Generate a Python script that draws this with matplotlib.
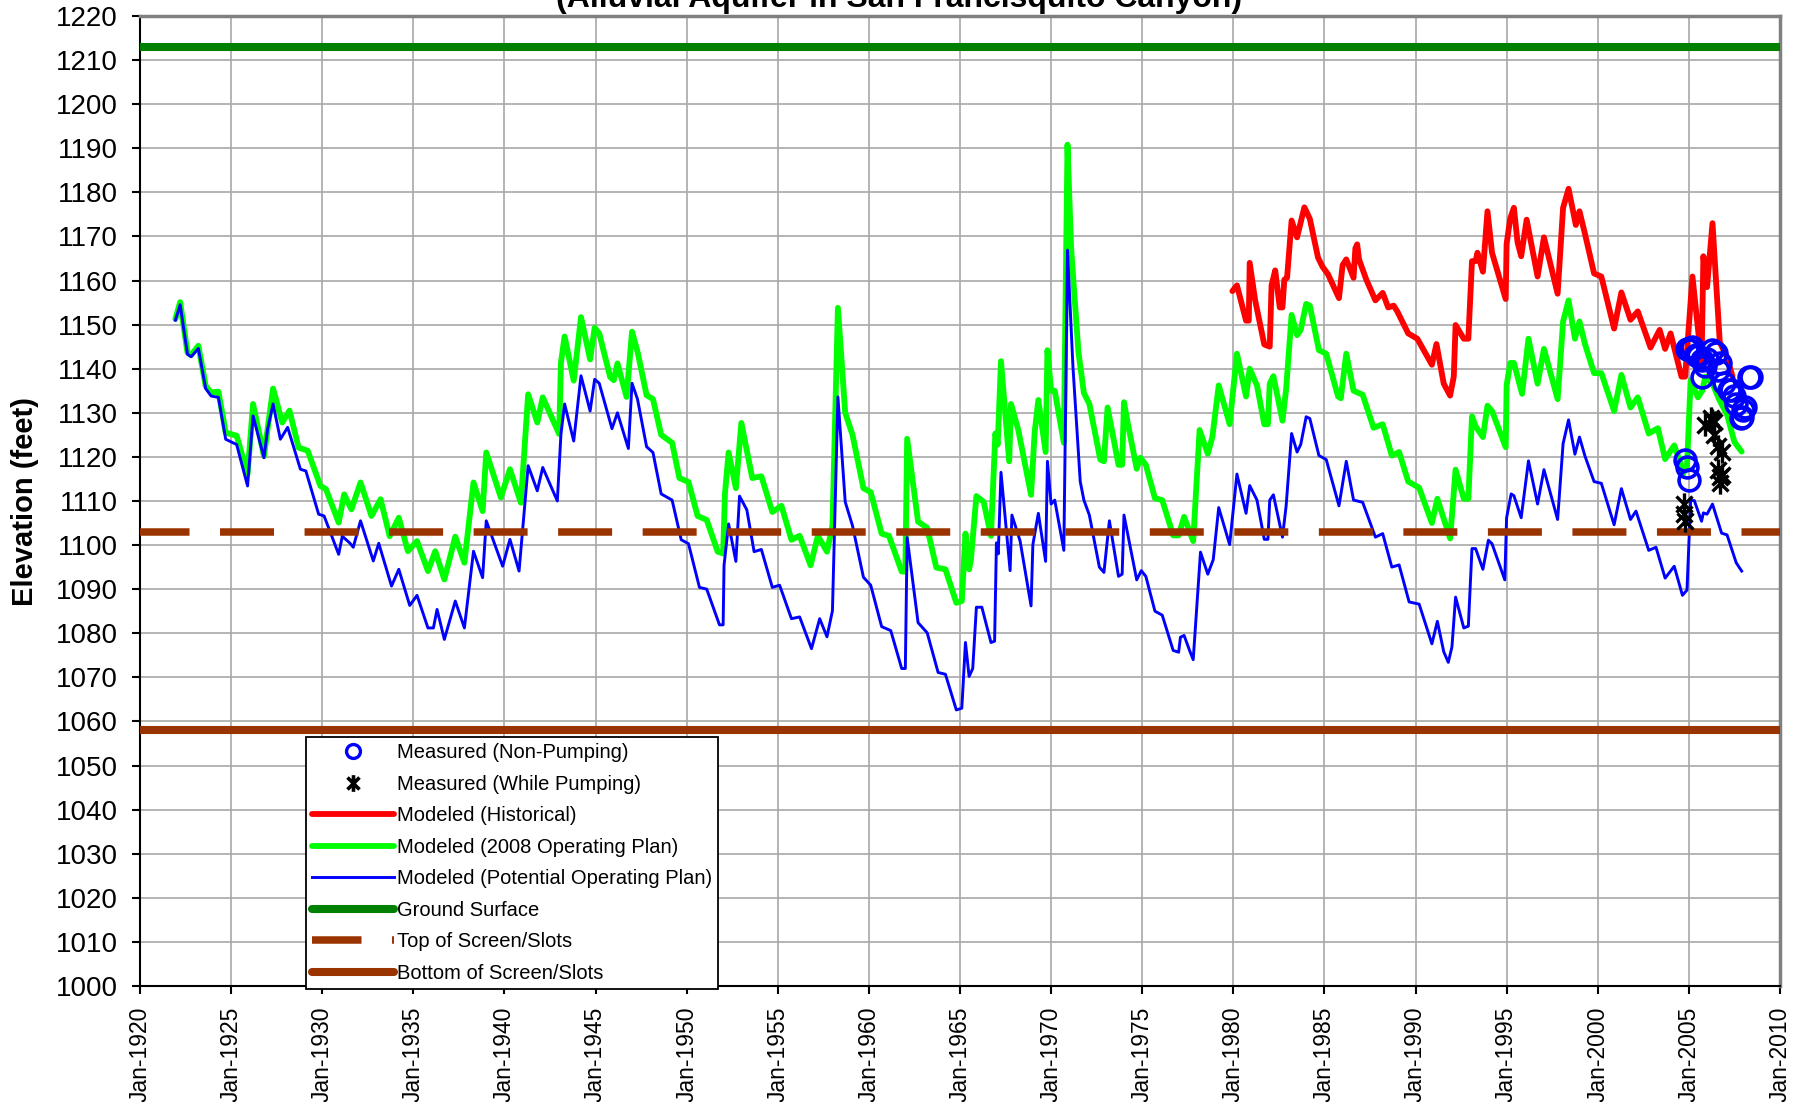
import matplotlib
matplotlib.use("Agg")
import matplotlib.pyplot as plt
from matplotlib.path import Path
from matplotlib.ticker import MultipleLocator, FuncFormatter

plt.rcParams['font.family'] = ['Liberation Sans', 'DejaVu Sans']

# reference elevations (feet)
ground_surface = 1213
top_of_screen = 1103
bottom_of_screen = 1058

# Modeled (Historical)
hist_year = [1979.95, 1980.2, 1980.7, 1980.85, 1980.9, 1981.2, 1981.7, 1982.0, 1982.1, 1982.3,
             1982.55, 1982.7, 1982.8, 1982.95, 1983.2, 1983.5, 1983.6, 1983.9, 1984.2, 1984.65,
             1984.9, 1985.2, 1985.8, 1986.0, 1986.2, 1986.6, 1986.7, 1986.8, 1986.9, 1987.3,
             1987.8, 1988.2, 1988.5, 1988.8, 1989.0, 1989.6, 1990.1, 1990.9, 1991.15, 1991.55,
             1991.9, 1992.1, 1992.2, 1992.65, 1992.9, 1993.1, 1993.3, 1993.4, 1993.7, 1993.95,
             1994.2, 1994.95, 1995.0, 1995.2, 1995.4, 1995.6, 1995.8, 1996.1, 1996.7, 1997.05,
             1997.8, 1998.1, 1998.4, 1998.8, 1999.0, 1999.3, 1999.8, 2000.2, 2000.9, 2001.3,
             2001.8, 2002.2, 2002.9, 2003.4, 2003.7, 2004.0, 2004.6, 2004.8, 2005.2, 2005.7,
             2005.8, 2006.0, 2006.3, 2006.7, 2007.1, 2007.4]
hist_elev = [1157.6, 1158.9, 1150.9, 1150.9, 1164.0, 1155.5, 1145.5, 1145.0, 1158.9, 1162.3,
             1153.9, 1153.9, 1160.2, 1160.6, 1173.6, 1169.8, 1171.5, 1176.6, 1174.0, 1165.2,
             1163.1, 1161.4, 1156.0, 1163.5, 1164.8, 1160.6, 1167.3, 1168.2, 1164.8, 1160.2,
             1155.5, 1157.2, 1153.9, 1154.3, 1153.0, 1148.0, 1146.8, 1140.9, 1145.6, 1136.6,
             1133.9, 1138.2, 1149.9, 1146.8, 1146.8, 1164.4, 1164.4, 1166.3, 1162.0, 1175.7,
             1166.3, 1155.8, 1168.3, 1174.1, 1176.5, 1168.7, 1165.5, 1173.8, 1160.9, 1169.8,
             1157.0, 1176.5, 1180.8, 1172.6, 1175.7, 1170.6, 1161.6, 1160.9, 1149.1, 1157.3,
             1151.1, 1153.0, 1144.8, 1148.8, 1144.5, 1148.0, 1138.2, 1138.2, 1160.9, 1141.3,
             1165.5, 1158.5, 1173.0, 1146.0, 1142.5, 1138.2]

# Modeled (2008 Operating Plan)
plan_year = [1921.94, 1922.2, 1922.6, 1922.8, 1923.2, 1923.6, 1923.9, 1924.3, 1924.7, 1925.3,
             1925.9, 1926.2, 1926.8, 1927.3, 1927.8, 1928.2, 1928.7, 1929.2, 1929.9, 1930.2,
             1930.9, 1931.2, 1931.6, 1932.1, 1932.7, 1933.2, 1933.7, 1934.2, 1934.7, 1935.2,
             1935.8, 1936.2, 1936.7, 1937.3, 1937.8, 1938.3, 1938.8, 1939.0, 1939.8, 1940.3,
             1940.9, 1941.3, 1941.8, 1942.1, 1943.0, 1943.1, 1943.3, 1943.8, 1944.2, 1944.7,
             1944.95, 1945.2, 1945.8, 1946.0, 1946.2, 1946.7, 1947.0, 1947.3, 1947.8, 1948.15,
             1948.6, 1949.2, 1949.6, 1950.1, 1950.6, 1951.1, 1951.7, 1952.0, 1952.1, 1952.3,
             1952.7, 1953.0, 1953.6, 1954.1, 1954.7, 1955.2, 1955.75, 1956.2, 1956.8, 1957.2,
             1957.7, 1958.0, 1958.3, 1958.7, 1959.1, 1959.7, 1960.1, 1960.7, 1961.1, 1961.8,
             1962.0, 1962.1, 1962.7, 1963.2, 1963.7, 1964.2, 1964.8, 1965.1, 1965.3, 1965.5,
             1965.6, 1965.9, 1966.3, 1966.7, 1966.94, 1967.07, 1967.25, 1967.7, 1967.8, 1968.2,
             1968.9, 1969.1, 1969.3, 1969.7, 1969.8, 1970.0, 1970.2, 1970.7, 1970.9, 1971.1,
             1971.5, 1971.8, 1972.1, 1972.7, 1972.9, 1973.1, 1973.7, 1973.9, 1974.0, 1974.2,
             1974.7, 1974.9, 1975.2, 1975.7, 1976.1, 1976.7, 1977.0, 1977.3, 1977.8, 1978.15,
             1978.6, 1978.85, 1979.2, 1979.8, 1980.2, 1980.7, 1980.9, 1981.3, 1981.7, 1981.9,
             1982.0, 1982.2, 1982.7, 1982.9, 1983.2, 1983.5, 1983.7, 1984.0, 1984.2, 1984.7,
             1985.1, 1985.75, 1985.9, 1986.2, 1986.6, 1987.1, 1987.7, 1988.2, 1988.7, 1989.1,
             1989.6, 1990.2, 1990.9, 1991.2, 1991.5, 1991.9, 1992.2, 1992.65, 1992.9, 1993.1,
             1993.3, 1993.7, 1993.95, 1994.2, 1994.95, 1995.0, 1995.2, 1995.4, 1995.85, 1996.2,
             1996.7, 1997.05, 1997.8, 1998.1, 1998.4, 1998.75, 1999.0, 1999.3, 1999.8, 2000.2,
             2000.9, 2001.3, 2001.8, 2002.2, 2002.8, 2003.3, 2003.7, 2004.2, 2004.6, 2004.7,
             2004.9, 2005.1, 2005.5, 2005.75, 2005.9, 2006.3, 2006.7, 2007.1, 2007.5, 2007.9]
plan_elev = [1151.3, 1155.1, 1143.7, 1143.1, 1145.2, 1136.1, 1134.6, 1134.8, 1125.5, 1124.8,
             1116.1, 1132.0, 1120.2, 1135.5, 1127.8, 1130.5, 1122.1, 1121.4, 1113.4, 1112.7,
             1105.1, 1111.5, 1108.1, 1114.2, 1106.6, 1110.4, 1102.0, 1106.2, 1098.6, 1100.9,
             1094.1, 1098.6, 1092.2, 1101.9, 1096.0, 1114.2, 1107.7, 1121.0, 1110.8, 1117.2,
             1109.6, 1134.2, 1127.8, 1133.5, 1125.2, 1141.4, 1147.3, 1137.3, 1151.7, 1142.1,
             1149.3, 1148.0, 1138.1, 1137.4, 1141.2, 1133.6, 1148.4, 1143.9, 1134.0, 1133.1,
             1125.0, 1123.2, 1115.2, 1114.3, 1106.6, 1105.7, 1098.5, 1098.1, 1111.6, 1121.0,
             1112.9, 1127.7, 1115.2, 1115.6, 1107.5, 1108.9, 1101.2, 1102.1, 1095.4, 1102.1,
             1098.5, 1104.4, 1153.8, 1130.0, 1125.0, 1112.9, 1112.0, 1102.6, 1102.1, 1094.0,
             1094.0, 1124.1, 1105.3, 1103.9, 1094.9, 1094.5, 1086.9, 1087.3, 1102.6, 1094.5,
             1096.7, 1111.1, 1109.8, 1102.1, 1125.3, 1122.8, 1141.7, 1119.0, 1132.0, 1126.1,
             1111.4, 1125.7, 1132.9, 1121.1, 1144.2, 1135.0, 1135.0, 1123.2, 1190.8, 1167.3,
             1143.8, 1134.5, 1132.0, 1119.4, 1119.0, 1131.2, 1118.2, 1118.2, 1132.4, 1127.8,
             1117.3, 1119.8, 1118.2, 1110.6, 1110.2, 1102.2, 1102.2, 1106.4, 1100.9, 1126.1,
             1120.7, 1124.5, 1136.2, 1127.4, 1143.4, 1133.7, 1140.0, 1136.2, 1127.4, 1127.4,
             1136.6, 1138.3, 1128.2, 1135.4, 1152.2, 1147.6, 1148.8, 1154.7, 1154.3, 1144.2,
             1143.4, 1133.7, 1133.3, 1143.4, 1135.0, 1134.1, 1126.6, 1127.4, 1120.3, 1121.1,
             1114.4, 1113.0, 1105.0, 1110.5, 1106.6, 1101.5, 1117.1, 1110.5, 1110.5, 1129.2,
             1126.9, 1124.5, 1131.6, 1130.4, 1122.2, 1136.2, 1141.3, 1141.3, 1134.3, 1146.8,
             1136.6, 1144.5, 1133.1, 1150.7, 1155.5, 1146.8, 1150.7, 1145.6, 1139.0, 1139.0,
             1130.4, 1138.6, 1131.2, 1133.5, 1125.3, 1126.5, 1119.5, 1122.6, 1117.9, 1116.3,
             1117.9, 1137.4, 1133.5, 1135.1, 1138.2, 1136.6, 1132.7, 1129.6, 1123.4, 1121.2]

# Modeled (Potential Operating Plan)
pot_year = [1921.94, 1922.2, 1922.6, 1922.8, 1923.2, 1923.6, 1923.9, 1924.3, 1924.7, 1925.3,
            1925.9, 1926.2, 1926.8, 1927.0, 1927.3, 1927.7, 1928.1, 1928.8, 1929.1, 1929.8,
            1930.1, 1930.9, 1931.1, 1931.5, 1931.7, 1932.1, 1932.8, 1933.1, 1933.8, 1934.2,
            1934.8, 1935.2, 1935.8, 1936.1, 1936.3, 1936.7, 1937.3, 1937.8, 1938.3, 1938.8,
            1939.0, 1939.9, 1940.3, 1940.8, 1941.3, 1941.8, 1942.1, 1942.9, 1943.1, 1943.3,
            1943.8, 1944.2, 1944.7, 1944.95, 1945.2, 1945.9, 1946.2, 1946.8, 1947.0, 1947.3,
            1947.8, 1948.15, 1948.6, 1949.2, 1949.7, 1950.1, 1950.7, 1951.1, 1951.8, 1952.0,
            1952.05, 1952.3, 1952.7, 1952.9, 1953.3, 1953.7, 1954.1, 1954.7, 1955.1, 1955.75,
            1956.2, 1956.85, 1957.3, 1957.7, 1958.0, 1958.3, 1958.7, 1959.1, 1959.7, 1960.1,
            1960.7, 1961.2, 1961.8, 1962.0, 1962.1, 1962.7, 1963.2, 1963.8, 1964.2, 1964.8,
            1965.1, 1965.3, 1965.5, 1965.7, 1965.9, 1966.2, 1966.7, 1966.9, 1967.0, 1967.1,
            1967.25, 1967.75, 1967.85, 1968.3, 1968.9, 1969.0, 1969.3, 1969.7, 1969.8, 1970.0,
            1970.2, 1970.7, 1970.9, 1971.2, 1971.6, 1971.8, 1972.1, 1972.65, 1972.9, 1973.2,
            1973.7, 1973.9, 1974.0, 1974.2, 1974.7, 1974.95, 1975.2, 1975.7, 1976.1, 1976.7,
            1977.0, 1977.1, 1977.3, 1977.6, 1977.8, 1978.2, 1978.6, 1978.9, 1979.2, 1979.8,
            1980.2, 1980.7, 1980.9, 1981.3, 1981.7, 1981.9, 1982.0, 1982.2, 1982.7, 1982.9,
            1983.2, 1983.5, 1983.7, 1984.0, 1984.2, 1984.7, 1985.1, 1985.8, 1986.2, 1986.6,
            1987.1, 1987.8, 1988.2, 1988.7, 1989.1, 1989.65, 1990.2, 1990.9, 1991.2, 1991.55,
            1991.8, 1992.0, 1992.2, 1992.65, 1992.9, 1993.1, 1993.3, 1993.7, 1994.0, 1994.2,
            1994.9, 1995.0, 1995.25, 1995.4, 1995.8, 1996.2, 1996.7, 1997.05, 1997.8, 1998.1,
            1998.4, 1998.75, 1999.0, 1999.3, 1999.8, 2000.2, 2000.9, 2001.3, 2001.8, 2002.1,
            2002.8, 2003.2, 2003.7, 2004.2, 2004.65, 2004.9, 2005.1, 2005.3, 2005.7, 2005.8,
            2006.0, 2006.3, 2006.8, 2007.1, 2007.6, 2007.9]
pot_elev = [1151.0, 1154.5, 1143.3, 1142.7, 1144.6, 1135.5, 1133.8, 1133.5, 1124.0, 1122.8,
            1113.4, 1129.3, 1119.8, 1126.3, 1132.0, 1124.0, 1126.7, 1117.2, 1116.8, 1107.0,
            1106.6, 1097.9, 1102.0, 1100.5, 1099.5, 1105.5, 1096.4, 1100.4, 1090.7, 1094.5,
            1086.3, 1088.6, 1081.2, 1081.2, 1085.4, 1078.6, 1087.3, 1081.2, 1098.6, 1092.6,
            1105.5, 1095.2, 1101.3, 1094.1, 1118.0, 1112.3, 1117.6, 1110.0, 1125.2, 1132.0,
            1123.6, 1138.4, 1130.4, 1137.6, 1136.7, 1126.4, 1130.0, 1121.9, 1136.7, 1133.1,
            1122.3, 1121.0, 1111.6, 1110.2, 1101.2, 1100.3, 1090.4, 1090.0, 1081.9, 1081.9,
            1095.4, 1104.8, 1096.3, 1111.1, 1108.0, 1098.5, 1099.0, 1090.4, 1090.9, 1083.3,
            1083.7, 1076.5, 1083.3, 1079.2, 1085.1, 1133.6, 1109.8, 1104.4, 1092.7, 1090.9,
            1081.5, 1080.6, 1072.0, 1072.0, 1101.7, 1082.4, 1080.1, 1071.1, 1070.7, 1062.6,
            1063.0, 1077.9, 1070.2, 1072.0, 1085.9, 1085.9, 1077.9, 1078.2, 1100.5, 1098.0,
            1116.5, 1094.2, 1106.8, 1100.9, 1086.2, 1100.1, 1107.2, 1096.3, 1119.0, 1109.3,
            1110.2, 1098.8, 1166.9, 1140.4, 1114.4, 1110.2, 1106.8, 1095.0, 1093.8, 1105.5,
            1092.9, 1093.4, 1106.8, 1102.6, 1092.1, 1094.2, 1092.9, 1085.0, 1084.1, 1076.1,
            1075.7, 1079.1, 1079.5, 1076.1, 1074.0, 1098.4, 1093.4, 1096.7, 1108.5, 1100.1,
            1116.1, 1107.2, 1113.5, 1110.2, 1101.3, 1101.3, 1110.2, 1111.4, 1101.8, 1108.9,
            1125.3, 1121.1, 1122.8, 1129.1, 1128.7, 1120.3, 1119.4, 1108.9, 1119.0, 1110.2,
            1109.7, 1101.8, 1102.6, 1095.0, 1095.5, 1087.1, 1086.6, 1077.6, 1082.7, 1075.8,
            1073.4, 1076.9, 1088.2, 1081.2, 1081.6, 1099.2, 1099.2, 1094.5, 1101.1, 1100.3,
            1092.1, 1106.2, 1111.6, 1111.2, 1106.2, 1119.1, 1109.3, 1117.1, 1105.8, 1123.0,
            1128.4, 1120.6, 1124.5, 1120.2, 1114.4, 1114.0, 1104.6, 1112.8, 1105.8, 1107.7,
            1098.8, 1099.5, 1092.5, 1095.2, 1088.6, 1089.8, 1110.1, 1110.1, 1105.4, 1107.3,
            1107.0, 1109.3, 1102.7, 1102.3, 1096.0, 1094.1]

# Measured (Non-Pumping)
np_year = [2004.8, 2004.9, 2005.0, 2004.9, 2005.09, 2005.2, 2005.4, 2005.5, 2005.75, 2005.75,
           2005.9, 2006.0, 2006.3, 2006.5, 2006.7, 2006.6, 2006.95, 2007.2, 2007.3, 2007.5,
           2007.6, 2007.85, 2007.9, 2008.0, 2008.1, 2008.4, 2008.3]
np_elev = [1119.3, 1117.8, 1114.8, 1144.5, 1144.2, 1144.9, 1143.1, 1142.9, 1142.0, 1138.2,
           1140.5, 1142.3, 1144.2, 1143.5, 1141.2, 1139.8, 1136.7, 1135.2, 1135.1, 1133.7,
           1132.0, 1128.8, 1129.1, 1130.6, 1131.4, 1138.2, 1138.2]

# Measured (While Pumping)
wp_year = [2004.75, 2004.75, 2004.8, 2005.9, 2006.2, 2006.3, 2006.4, 2006.4, 2006.6, 2006.8,
           2006.6, 2006.7, 2006.7, 2006.8]
wp_elev = [1109.3, 1107.0, 1105.5, 1127.3, 1128.8, 1128.3, 1128.0, 1124.9, 1122.5, 1121.0,
           1117.1, 1115.5, 1114.0, 1116.0]

# asterisk marker: vertical bar plus an X
star_path = Path([(0, -1), (0, 1), (-0.72, -0.72), (0.72, 0.72), (-0.72, 0.72), (0.72, -0.72)],
                 [Path.MOVETO, Path.LINETO] * 3)

fig = plt.figure(figsize=(18.05, 11.02), dpi=100)
ax = fig.add_axes([0.0776, 0.1053, 0.9085, 0.8802])

ax.plot(np_year, np_elev, ls='none', marker='o', ms=15, mfc='none', mec='#0000FF', mew=2.6,
        label='Measured (Non-Pumping)', zorder=5)
ax.plot(wp_year, wp_elev, ls='none', marker=star_path, ms=16, mfc='none', mec='black', mew=2.4,
        label='Measured (While Pumping)', zorder=5.1)
ax.plot(hist_year, hist_elev, color='#FF0000', lw=4.2, solid_joinstyle='round',
        solid_capstyle='round', label='Modeled (Historical)', zorder=3)
ax.plot(plan_year, plan_elev, color='#00FF00', lw=4.2, solid_joinstyle='round',
        solid_capstyle='round', label='Modeled (2008 Operating Plan)', zorder=3.1)
ax.plot(pot_year, pot_elev, color='#0000FF', lw=2.1, solid_joinstyle='round',
        label='Modeled (Potential Operating Plan)', zorder=3.2)
ax.axhline(ground_surface, color='#008000', lw=5.8, solid_capstyle='round',
           label='Ground Surface', zorder=3.3)
ax.axhline(top_of_screen, color='#993300', lw=5.4, ls=(0.6, (7.2, 4.07)), dash_capstyle='butt',
           label='Top of Screen/Slots', zorder=3.4)
ax.axhline(bottom_of_screen, color='#993300', lw=5.8, solid_capstyle='round',
           label='Bottom of Screen/Slots', zorder=3.5)

ax.set_xlim(1920, 2010)
ax.set_ylim(1000, 1220)
ax.xaxis.set_major_locator(MultipleLocator(5))
ax.yaxis.set_major_locator(MultipleLocator(10))
ax.xaxis.set_major_formatter(FuncFormatter(lambda v, p: f"Jan-{int(round(v))}"))
ax.grid(True, color='#A8A8A8', lw=1.2, zorder=0)
ax.set_axisbelow(True)

ax.tick_params(axis='y', direction='out', length=6, width=1.5, pad=10, labelsize=20)
ax.tick_params(axis='x', direction='out', length=6, width=1.5, pad=9, labelsize=16.5,
               labelrotation=90)
for side in ['left', 'bottom']:
    ax.spines[side].set_color('black')
    ax.spines[side].set_linewidth(1.5)
for side in ['top', 'right']:
    ax.spines[side].set_color('#808080')
    ax.spines[side].set_linewidth(2.5)

leg = ax.legend(loc='lower left', bbox_to_anchor=(0.101, -0.003), borderaxespad=0,
                fontsize=14.5, handlelength=4.1, handletextpad=0.15, labelspacing=0.62,
                borderpad=0.3, fancybox=False, framealpha=1, edgecolor='black')
leg.get_frame().set_linewidth(1.3)
leg.set_zorder(10)
handles = leg.legend_handles
handles[0].set_markersize(10)
handles[0].set_markeredgewidth(2.4)
handles[1].set_markersize(12)
handles[1].set_markeredgewidth(2.6)

fig.text(0.498, 0.994, '(Alluvial Aquifer in San Francisquito Canyon)', ha='center',
         va='baseline', fontsize=23, fontweight='bold')
fig.text(0.0139, 0.545, 'Elevation (feet)', rotation=90, ha='center', va='center',
         fontsize=21, fontweight='bold')

fig.savefig('out.png', dpi=100)
